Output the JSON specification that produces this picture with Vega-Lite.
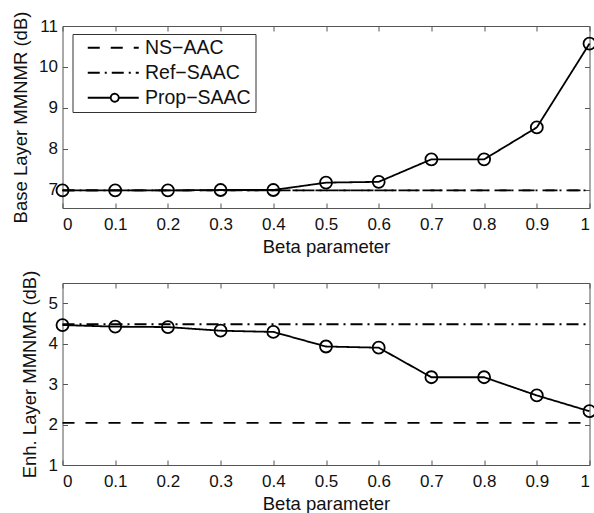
{
  "$schema": "https://vega.github.io/schema/vega-lite/v6.json",
  "padding": {"left": 10.5, "top": 10, "right": 0, "bottom": 0},
  "spacing": 13,
  "config": {
    "font": "Liberation Sans",
    "view": {"stroke": "#555", "strokeWidth": 1},
    "axis": {"grid": false, "labelFontSize": 17, "titleFontSize": 18.5, "titleFontWeight": "normal", "labelColor": "#111", "titleColor": "#111", "domain": false, "tickColor": "#555", "tickSize": -5},
    "axisX": {"labelPadding": 13, "titlePadding": 5},
    "axisY": {"labelPadding": 10, "titlePadding": 8.5}
  },
  "datasets": {
    "d": [
      {"panel": "base", "series": "NS-AAC", "beta": 0, "value": 6.98},
      {"panel": "base", "series": "NS-AAC", "beta": 1, "value": 6.98},
      {"panel": "base", "series": "Ref-SAAC", "beta": 0, "value": 6.98},
      {"panel": "base", "series": "Ref-SAAC", "beta": 1, "value": 6.98},
      {"panel": "base", "series": "Prop-SAAC", "beta": 0, "value": 6.98},
      {"panel": "base", "series": "Prop-SAAC", "beta": 0.1, "value": 6.98},
      {"panel": "base", "series": "Prop-SAAC", "beta": 0.2, "value": 6.98},
      {"panel": "base", "series": "Prop-SAAC", "beta": 0.3, "value": 6.99},
      {"panel": "base", "series": "Prop-SAAC", "beta": 0.4, "value": 6.99},
      {"panel": "base", "series": "Prop-SAAC", "beta": 0.5, "value": 7.17},
      {"panel": "base", "series": "Prop-SAAC", "beta": 0.6, "value": 7.19},
      {"panel": "base", "series": "Prop-SAAC", "beta": 0.7, "value": 7.74},
      {"panel": "base", "series": "Prop-SAAC", "beta": 0.8, "value": 7.74},
      {"panel": "base", "series": "Prop-SAAC", "beta": 0.9, "value": 8.52},
      {"panel": "base", "series": "Prop-SAAC", "beta": 1, "value": 10.57},
      {"panel": "enh", "series": "NS-AAC", "beta": 0, "value": 2.04},
      {"panel": "enh", "series": "NS-AAC", "beta": 1, "value": 2.04},
      {"panel": "enh", "series": "Ref-SAAC", "beta": 0, "value": 4.48},
      {"panel": "enh", "series": "Ref-SAAC", "beta": 1, "value": 4.48},
      {"panel": "enh", "series": "Prop-SAAC", "beta": 0, "value": 4.46},
      {"panel": "enh", "series": "Prop-SAAC", "beta": 0.1, "value": 4.42},
      {"panel": "enh", "series": "Prop-SAAC", "beta": 0.2, "value": 4.41},
      {"panel": "enh", "series": "Prop-SAAC", "beta": 0.3, "value": 4.32},
      {"panel": "enh", "series": "Prop-SAAC", "beta": 0.4, "value": 4.29},
      {"panel": "enh", "series": "Prop-SAAC", "beta": 0.5, "value": 3.93},
      {"panel": "enh", "series": "Prop-SAAC", "beta": 0.6, "value": 3.9},
      {"panel": "enh", "series": "Prop-SAAC", "beta": 0.7, "value": 3.17},
      {"panel": "enh", "series": "Prop-SAAC", "beta": 0.8, "value": 3.17},
      {"panel": "enh", "series": "Prop-SAAC", "beta": 0.9, "value": 2.72},
      {"panel": "enh", "series": "Prop-SAAC", "beta": 1, "value": 2.33}
    ]
  },
  "resolve": {"scale": {"strokeDash": "independent"}, "legend": {"strokeDash": "independent"}},
  "vconcat": [
    {
      "width": 527, "height": 182,
      "data": {"name": "d"},
      "transform": [{"filter": "datum.panel === 'base'"}],
      "layer": [
        {
          "mark": {"type": "line", "color": "black", "strokeWidth": 1.8},
          "encoding": {
            "x": {"field": "beta", "type": "quantitative", "scale": {"domain": [0, 1], "nice": false}, "axis": {"values": [0, 0.1, 0.2, 0.3, 0.4, 0.5, 0.6, 0.7, 0.8, 0.9, 1], "format": "~g", "title": "Beta parameter"}},
            "y": {"field": "value", "type": "quantitative", "scale": {"domain": [6.55, 11], "nice": false, "zero": false}, "axis": {"values": [7, 8, 9, 10, 11], "title": "Base Layer MMNMR (dB)"}},
            "strokeDash": {
              "field": "series", "type": "nominal",
              "scale": {"domain": ["NS-AAC", "Ref-SAAC", "Prop-SAAC"], "range": [[12, 11], [12, 5, 2, 5], [1, 0]]},
              "legend": {
                "orient": "none", "legendX": 10, "legendY": 8, "title": null,
                "fillColor": "white", "strokeColor": "#333", "padding": 4,
                "labelFontSize": 19.5, "labelColor": "#111",
                "labelExpr": "replace(datum.label, '-', '\u2212')",
                "symbolSize": 100, "symbolOffset": 28.5, "labelOffset": 20.5, "rowPadding": 4,
                "symbolStrokeColor": "black", "symbolStrokeWidth": 1.8, "symbolFillColor": "transparent",
                "symbolType": "M-5.4,0H4.8",
                "encode": {"symbols": {"update": {"shape": {"signal": "datum.value === 'Prop-SAAC' ? 'M-5.4,0H-0.8A0.8,0.8,0,1,1,0.8,0A0.8,0.8,0,1,1,-0.8,0M0.8,0H4.8' : 'M-5.4,0H4.8'"}}}}
              }
            }
          }
        },
        {
          "transform": [{"filter": "datum.series === 'Prop-SAAC'"}],
          "mark": {"type": "point", "shape": "circle", "filled": false, "color": "black", "size": 144, "strokeWidth": 1.8, "opacity": 1},
          "encoding": {
            "x": {"field": "beta", "type": "quantitative", "axis": {"orient": "top", "labels": false, "title": null, "values": [0, 0.1, 0.2, 0.3, 0.4, 0.5, 0.6, 0.7, 0.8, 0.9, 1]}},
            "y": {"field": "value", "type": "quantitative", "axis": {"orient": "right", "labels": false, "title": null, "values": [7, 8, 9, 10, 11]}}
          }
        }
      ],
      "resolve": {"axis": {"x": "independent", "y": "independent"}}
    },
    {
      "width": 527, "height": 182,
      "data": {"name": "d"},
      "transform": [{"filter": "datum.panel === 'enh'"}],
      "layer": [
        {
          "mark": {"type": "line", "color": "black", "strokeWidth": 1.8},
          "encoding": {
            "x": {"field": "beta", "type": "quantitative", "scale": {"domain": [0, 1], "nice": false}, "axis": {"values": [0, 0.1, 0.2, 0.3, 0.4, 0.5, 0.6, 0.7, 0.8, 0.9, 1], "format": "~g", "title": "Beta parameter"}},
            "y": {"field": "value", "type": "quantitative", "scale": {"domain": [1, 5.5], "nice": false, "zero": false}, "axis": {"values": [1, 2, 3, 4, 5], "title": "Enh. Layer MMNMR (dB)"}},
            "strokeDash": {
              "field": "series", "type": "nominal",
              "scale": {"domain": ["NS-AAC", "Ref-SAAC", "Prop-SAAC"], "range": [[12, 11], [12, 5, 2, 5], [1, 0]]},
              "legend": null
            }
          }
        },
        {
          "transform": [{"filter": "datum.series === 'Prop-SAAC'"}],
          "mark": {"type": "point", "shape": "circle", "filled": false, "color": "black", "size": 144, "strokeWidth": 1.8, "opacity": 1},
          "encoding": {
            "x": {"field": "beta", "type": "quantitative", "axis": {"orient": "top", "labels": false, "title": null, "values": [0, 0.1, 0.2, 0.3, 0.4, 0.5, 0.6, 0.7, 0.8, 0.9, 1]}},
            "y": {"field": "value", "type": "quantitative", "axis": {"orient": "right", "labels": false, "title": null, "values": [1, 2, 3, 4, 5]}}
          }
        }
      ],
      "resolve": {"axis": {"x": "independent", "y": "independent"}}
    }
  ]
}
